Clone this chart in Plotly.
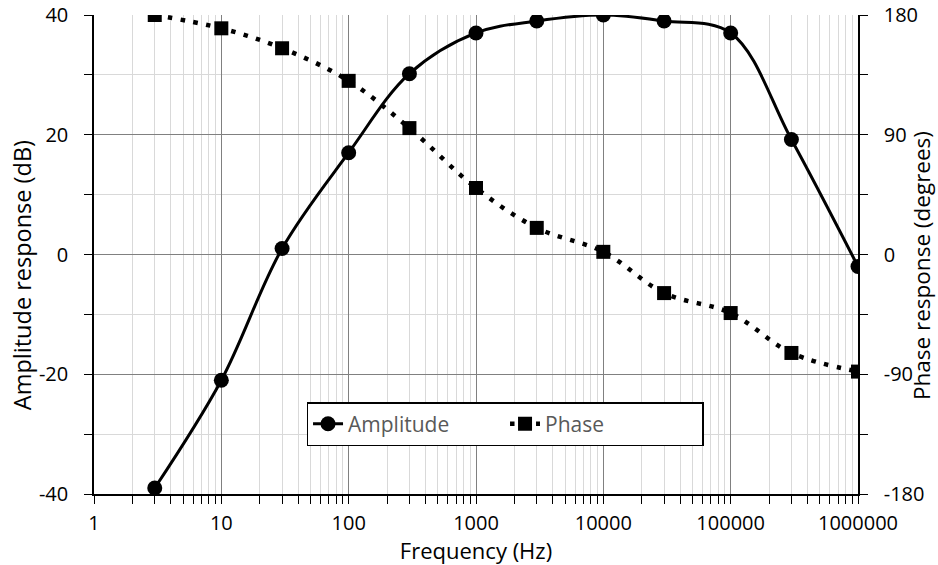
import plotly.graph_objects as go

freq = [3, 10, 30, 100, 300, 1000, 3000, 10000, 30000, 100000, 300000, 1000000]
amplitude_db = [-39, -21, 1, 17, 30.2, 37, 39, 40, 39, 37, 19.2, -2]
phase_deg = [180, 170, 155, 130.5, 95, 50, 20, 2, -29, -44, -74, -88]

x_tick_vals = [1, 10, 100, 1000, 10000, 100000, 1000000]
x_tick_text = ["1", "10", "100", "1000", "10000", "100000", "1000000"]
x_minor_vals = [m * 10 ** d for d in range(6) for m in range(2, 10)]
amp_tick_vals = [-40, -20, 0, 20, 40]
amp_tick_text = ["-40", "-20", "0", "20", "40"]
phase_tick_vals = [-180, -90, 0, 90, 180]
phase_tick_text = ["-180", "-90", "0", "90", "180"]

FONT = "Open Sans, sans-serif"
TICK = dict(ticks="outside", ticklen=8, tickcolor="black", tickwidth=1.3)

fig = go.Figure()
fig.add_trace(go.Scatter(
    x=freq, y=amplitude_db, name="Amplitude", mode="lines+markers",
    line=dict(color="black", width=3, shape="spline", smoothing=1),
    marker=dict(symbol="circle", size=15, color="black"),
    yaxis="y",
))
fig.add_trace(go.Scatter(
    x=freq, y=phase_deg, name="Phase", mode="lines+markers",
    line=dict(color="black", width=4.5, dash="4.5px,8.5px", shape="spline", smoothing=1),
    marker=dict(symbol="square", size=14, color="black"),
    yaxis="y2",
))

fig.update_layout(
    width=938, height=565,
    margin=dict(l=94, r=80, t=15, b=71),
    paper_bgcolor="white", plot_bgcolor="white",
    font=dict(family=FONT, size=20, color="black"),
    showlegend=True,
    legend=dict(
        orientation="h", x=0.538, xanchor="center", y=0.146, yanchor="middle",
        bordercolor="black", borderwidth=1.5, bgcolor="white",
        font=dict(family=FONT, size=21, color="#595959"),
        entrywidth=152,
    ),
    xaxis=dict(
        type="log", range=[0, 6], automargin=False,
        tickmode="array", tickvals=x_tick_vals, ticktext=x_tick_text,
        showgrid=True, gridcolor="#808080", gridwidth=1.3,
        showline=True, linecolor="black", linewidth=1.5,
        ticklabelstandoff=2,
        minor=dict(tickmode="array", tickvals=x_minor_vals, showgrid=True,
                   gridcolor="#d9d9d9", gridwidth=1.3, **TICK),
        title=dict(text="Frequency (Hz)", font=dict(size=22), standoff=0),
        zeroline=False, **TICK,
    ),
    yaxis=dict(
        range=[-40, 40], tickmode="array", tickvals=amp_tick_vals, ticktext=amp_tick_text,
        automargin=False,
        showgrid=True, gridcolor="#808080", gridwidth=1.3,
        showline=True, linecolor="black", linewidth=1.5,
        ticklabelstandoff=12,
        minor=dict(tickmode="linear", dtick=10, tick0=-40, showgrid=True,
                   gridcolor="#d9d9d9", gridwidth=1.3, **TICK),
        zeroline=False, **TICK,
    ),
    yaxis2=dict(
        overlaying="y", side="right", automargin=False,
        range=[-180, 180], tickmode="array", tickvals=phase_tick_vals, ticktext=phase_tick_text,
        showgrid=False,
        showline=True, linecolor="black", linewidth=1.5,
        ticklabelstandoff=12,
        minor=dict(tickmode="linear", dtick=45, tick0=-180, showgrid=False, **TICK),
        zeroline=False, **TICK,
    ),
    annotations=[
        dict(text="Amplitude response (dB)", textangle=-90, showarrow=False,
             xref="paper", yref="paper", x=-0.0942, y=0.457,
             xanchor="center", yanchor="middle", font=dict(size=23.5)),
        dict(text="Phase response (degrees)", textangle=-90, showarrow=False,
             xref="paper", yref="paper", x=1.0838, y=0.476,
             xanchor="center", yanchor="middle", font=dict(size=22.5)),
    ],
)

# remove the browser's default 8px page margin so the figure fills the window
fig.write_html("out.html", config={"displayModeBar": False},
               post_script="document.body.style.margin='0';")
